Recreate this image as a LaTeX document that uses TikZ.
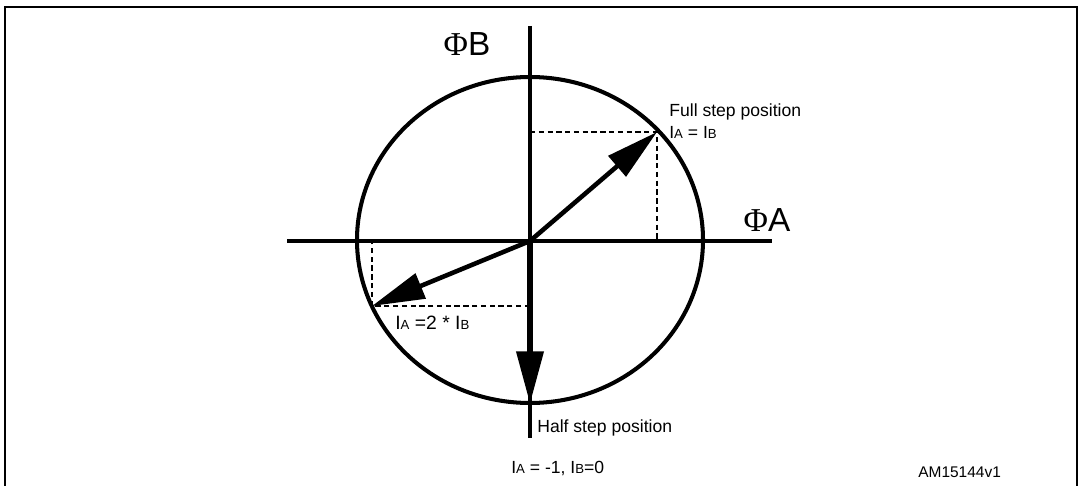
\documentclass[tikz,border=0pt]{standalone}
\usepackage{fontspec}
\setmainfont{Liberation Sans}
\newfontfamily\phifont{Liberation Serif}
\usetikzlibrary{positioning,arrows.meta}

\newcommand{\cur}[1]{I{\fontsize{7.5pt}{8pt}\selectfont #1}}

\begin{document}
\begin{tikzpicture}[
  x=0.02cm, y=-0.02cm,
  axis/.style={line width=2.3pt, draw=black},
  vec/.style={line width=2.6pt, draw=black,
    -{Triangle[length=30pt, width=15pt]}},
  guide/.style={densely dashed, line width=0.8pt},
  label/.style={inner sep=0pt, font=\fontsize{10pt}{12pt}\selectfont},
  phase/.style={inner sep=0pt, font=\fontsize{19pt}{21pt}\selectfont}
]
\useasboundingbox (0,0) rectangle (1082,486);

% Cadre
\draw[line width=1.6pt] (5,486) |- (1077,7) -- (1077,486);

% Axes et cercle
\coordinate (o) at (530,241);
\coordinate (btop) at (530,26);
\coordinate (bbot) at (530,438);
\coordinate (aleft) at (287,241);
\coordinate (aright) at (772,241);
\draw[axis] (aleft) -- (aright);
\draw[axis] (btop) -- (bbot);
\draw[axis] (530,240) ellipse [x radius=173, y radius=163];

% Points de pas
\coordinate (full) at (657,132);
\coordinate (half) at (372,306);
\coordinate (down) at (530,404);
\coordinate (fullx) at (full |- o);
\coordinate (fully) at (o |- full);
\coordinate (halfx) at (half |- o);
\coordinate (halfy) at (o |- half);

% Pointillés
\draw[guide] (fully) -- (full) -- (fullx);
\draw[guide] (halfy) -- (half) -- (halfx);

% Vecteurs
\draw[vec] (o) -- (full);
\draw[vec] (o) -- (half);
\draw[vec, line width=3.4pt] (o) -- (down);

% Textes
\node[phase] (phib) at (467,44) {{\phifont Φ}B};
\node[phase] (phia) at (767,220) {{\phifont Φ}A};
\node[label, anchor=base west] (fulltxt) at (669,117) {Full step position};
\node[label, anchor=base west] (fulleq) at (669,139) {\cur{A} = \cur{B}};
\node[label, anchor=base west, font=\fontsize{11pt}{13pt}\selectfont] (halfeq) at (395,329) {\cur{A} =2 * \cur{B}};
\node[label, anchor=base west] (halftxt) at (537,432) {Half step position};
\node[label, anchor=base west] (downeq) at (511,473) {\cur{A} = -1, \cur{B}=0};
\node[label, anchor=base west, font=\fontsize{8.8pt}{10pt}\selectfont] (ref) at (918,477) {AM15144v1};
\end{tikzpicture}
\end{document}
